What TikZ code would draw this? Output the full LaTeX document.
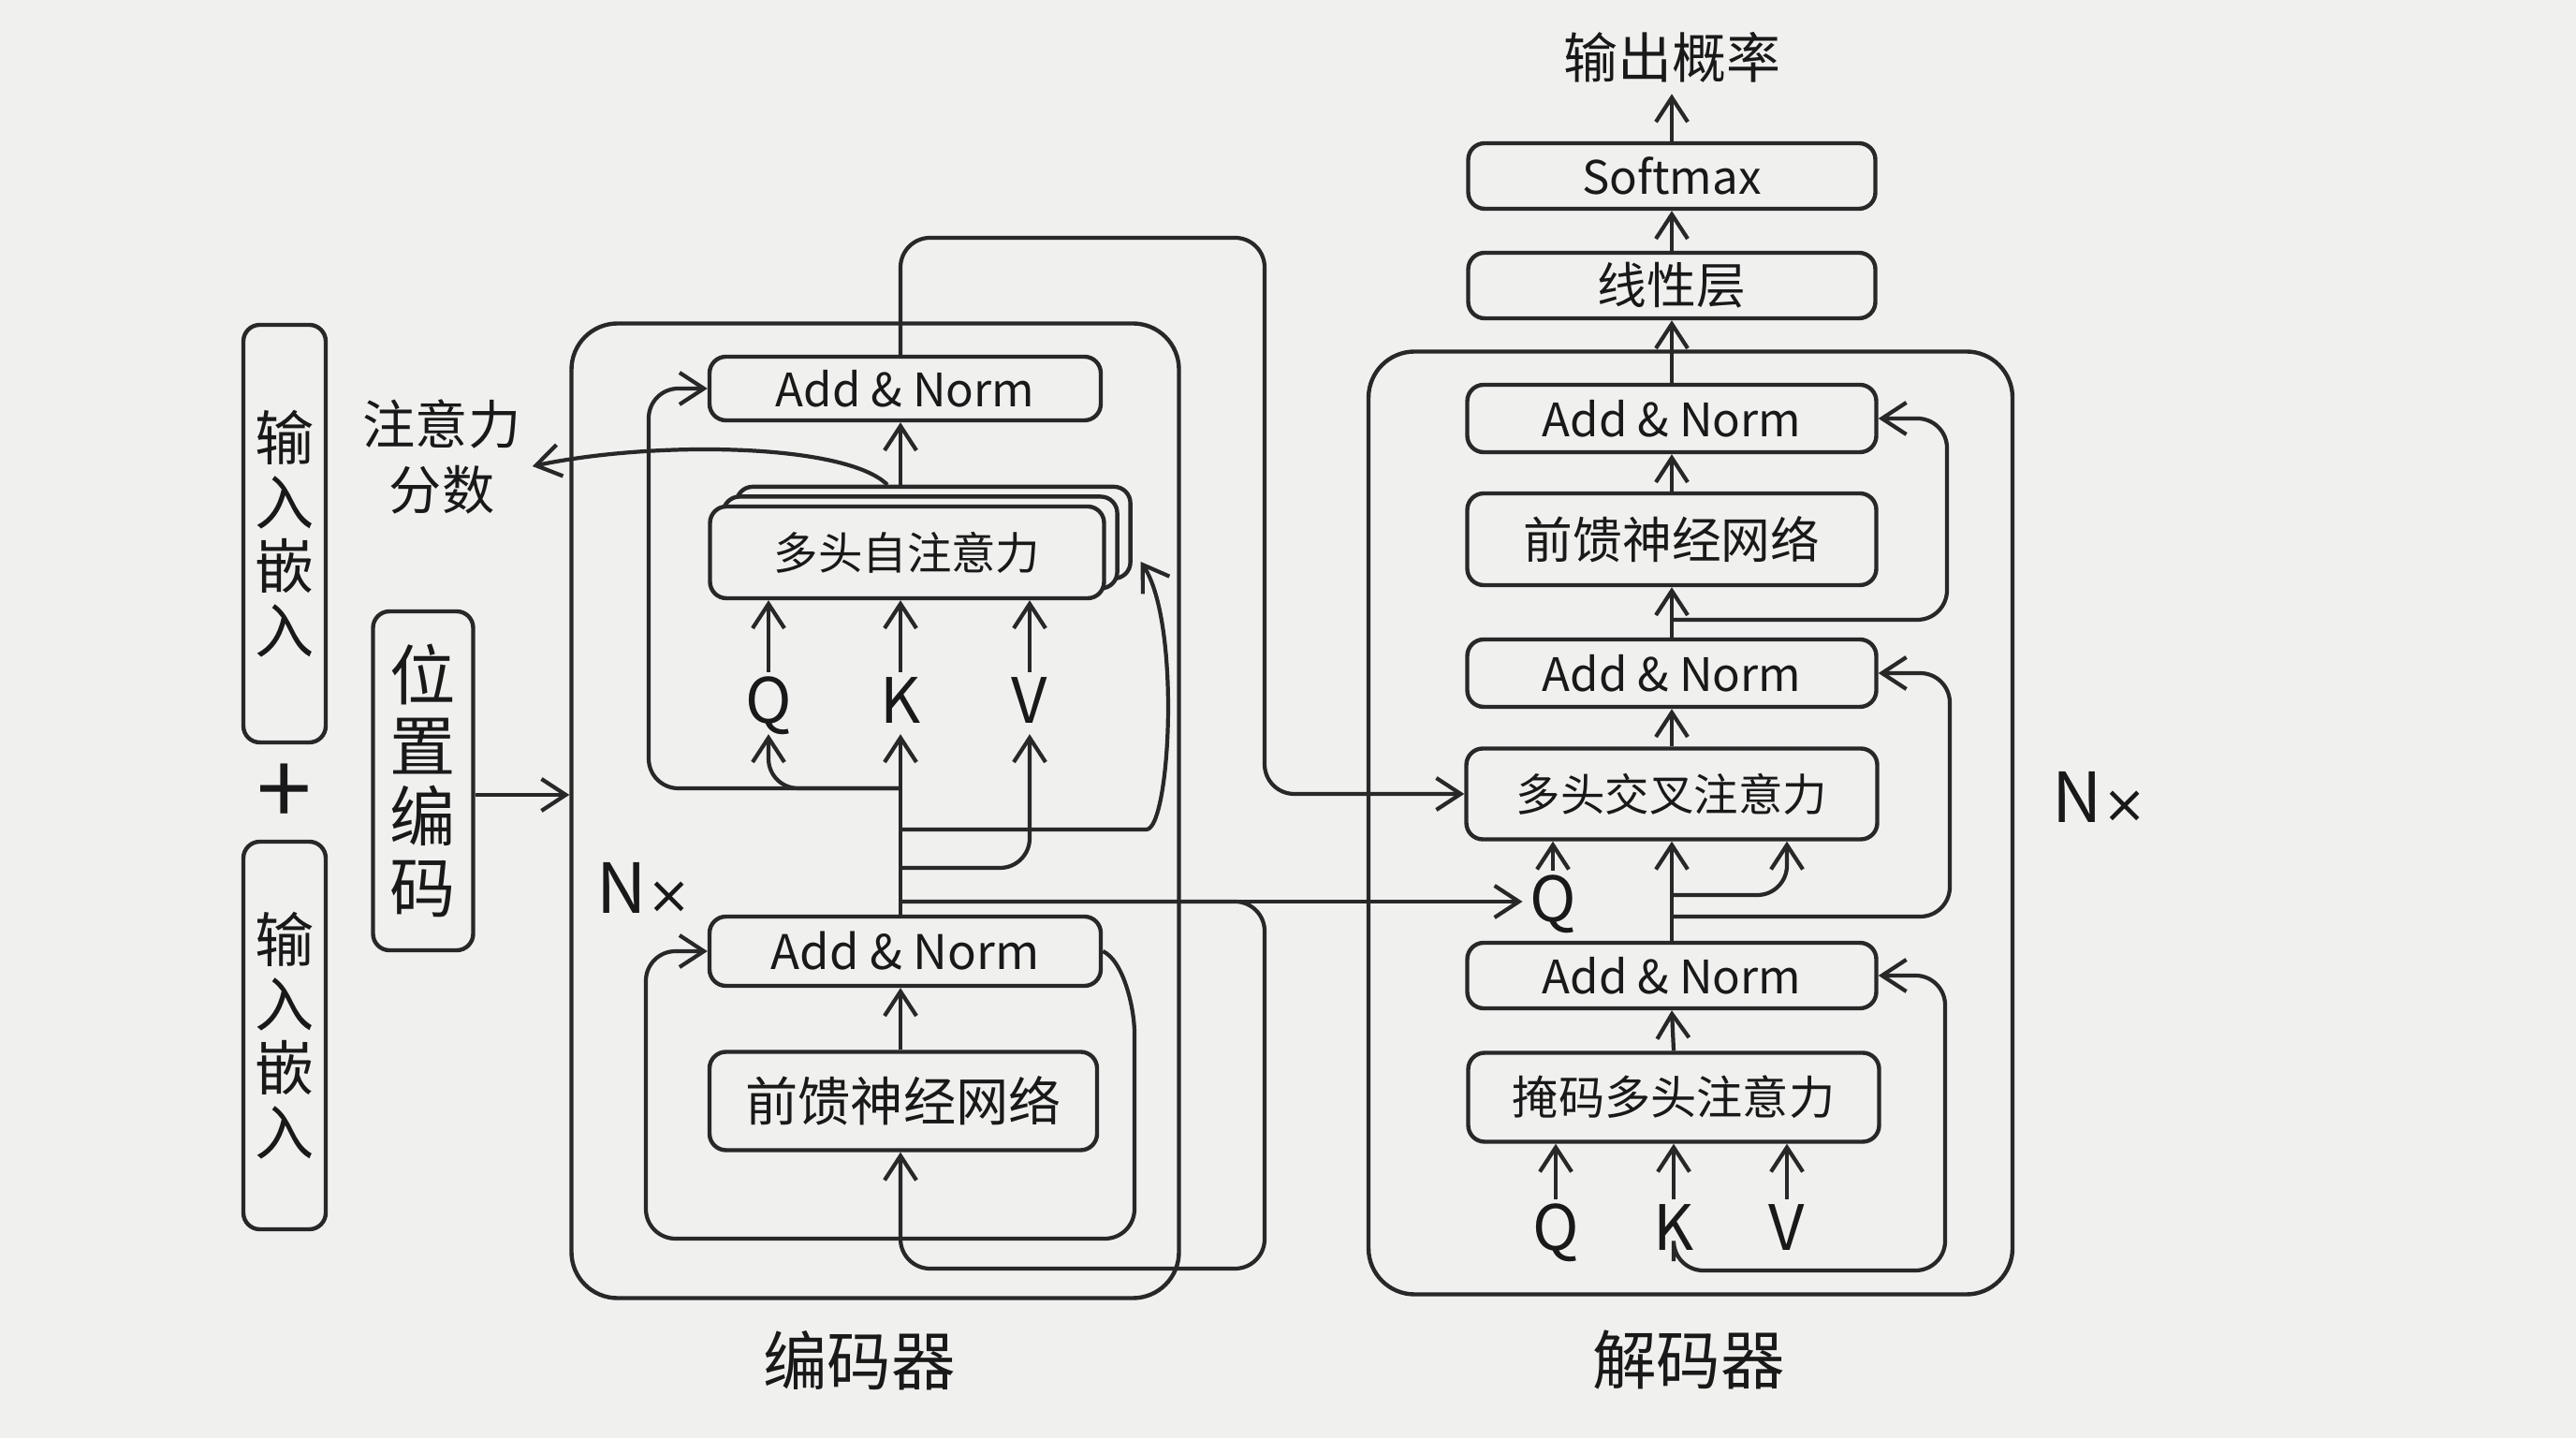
\documentclass[tikz,border=0pt]{standalone}
\usepackage{fontspec}
\setmainfont{Noto Sans CJK SC}
\newfontfamily\timesfont{DejaVu Sans}
\usetikzlibrary{arrows.meta,shadows}
\definecolor{ink}{RGB}{40,40,40}
\definecolor{paper}{RGB}{240,240,239}
\newcommand\setfs[2]{\fontsize{#1}{#2}\selectfont}

\begin{document}
\begin{tikzpicture}[
    text=black!90,
    box/.style={draw=ink, fill=paper, line width=1.25pt, rounded corners=5pt, inner sep=0pt, font=\setfs{14pt}{17pt}},
    frame/.style={draw=ink, line width=1.25pt, rounded corners=14pt, inner sep=0pt},
    vtext/.style={align=center, font=\setfs{18pt}{19.5pt}},
    qkv/.style={font=\setfs{19pt}{20pt}, text height=13.5pt, text depth=1pt, inner sep=2pt},
    title/.style={font=\setfs{19.5pt}{22pt}},
    arr/.style={draw=ink, line width=1.2pt, rounded corners=9pt, -{Straight Barb[length=2.6mm,width=3.4mm]}},
    stack/.style={copy shadow={shadow xshift=8pt, shadow yshift=6pt}, copy shadow={shadow xshift=4pt, shadow yshift=3pt}}
]
    \fill[paper] (0,0) rectangle (27.52,15.36);
    \useasboundingbox (0,0) rectangle (27.52,15.36);

    \node[box, vtext, minimum width=0.88cm, minimum height=4.46cm] (emba) at (3.04,9.66) {输\\入\\嵌\\入};
    \node[font=\setfs{30pt}{30pt}] (plus) at (3.04,6.87) {+};
    \node[box, vtext, minimum width=0.88cm, minimum height=4.14cm] (embb) at (3.04,4.30) {输\\入\\嵌\\入};
    \node[box, align=center, font=\setfs{20pt}{21.5pt}, minimum width=1.07cm, minimum height=3.62cm] (pe) at (4.52,7.02) {位\\置\\编\\码};
    \node[align=center, font=\setfs{16pt}{20pt}] (score) at (4.72,10.48) {注意力\\分数};

    \node[frame, minimum width=6.49cm, minimum height=10.41cm] (enc) at (9.35,6.70) {};
    \node[box, minimum width=4.18cm, minimum height=0.68cm] (ean1) at (9.67,11.21) {Add \& Norm};
    \node[box, stack, font=\setfs{13.5pt}{16pt}, minimum width=4.21cm, minimum height=0.98cm] (mha) at (9.69,9.46) {多头自注意力};
    \node[qkv] (eq) at (8.21,7.85) {Q};
    \node[qkv] (ek) at (9.62,7.85) {K};
    \node[qkv] (ev) at (11.00,7.85) {V};
    \node[box, minimum width=4.18cm, minimum height=0.74cm, font=\setfs{14.5pt}{17pt}] (ean2) at (9.67,5.20) {Add \& Norm};
    \node[box, font=\setfs{16pt}{18pt}, minimum width=4.14cm, minimum height=1.05cm] (effn) at (9.65,3.60) {前馈神经网络};
    \node[font=\setfs{21pt}{22pt}] (enx) at (6.88,5.88) {N{\timesfont\setfs{16pt}{18pt}×}};
    \node[title] (encl) at (9.18,0.83) {编码器};

    \node[frame, minimum width=6.88cm, minimum height=10.07cm] (dec) at (18.06,6.57) {};
    \node[font=\setfs{16.5pt}{20pt}] (outp) at (17.86,14.75) {输出概率};
    \node[box, minimum width=4.35cm, minimum height=0.70cm] (smax) at (17.86,13.48) {Softmax};
    \node[box, font=\setfs{15pt}{17pt}, minimum width=4.35cm, minimum height=0.70cm] (lin) at (17.86,12.31) {线性层};
    \node[box, minimum width=4.37cm, minimum height=0.72cm] (dan3) at (17.86,10.89) {Add \& Norm};
    \node[box, font=\setfs{15pt}{17pt}, minimum width=4.37cm, minimum height=0.98cm] (dffn) at (17.86,9.60) {前馈神经网络};
    \node[box, minimum width=4.37cm, minimum height=0.72cm] (dan2) at (17.86,8.17) {Add \& Norm};
    \node[box, font=\setfs{13.5pt}{16pt}, minimum width=4.39cm, minimum height=0.97cm] (dca) at (17.86,6.88) {多头交叉注意力};
    \node[qkv] (dq) at (16.59,5.73) {Q};
    \node[box, minimum width=4.37cm, minimum height=0.70cm] (dan1) at (17.86,4.94) {Add \& Norm};
    \node[box, font=\setfs{14pt}{16pt}, minimum width=4.39cm, minimum height=0.95cm] (mmha) at (17.88,3.64) {掩码多头注意力};
    \node[qkv] (dqq) at (16.62,2.22) {Q};
    \node[qkv] (dkk) at (17.88,2.22) {K};
    \node[qkv] (dvv) at (19.09,2.22) {V};
    \node[font=\setfs{21pt}{22pt}] (dnx) at (22.43,6.85) {N{\timesfont\setfs{16pt}{18pt}×}};
    \node[title] (decl) at (18.04,0.83) {解码器};

    \coordinate (ej1) at (9.62,6.94);
    \coordinate (ej2) at (9.62,6.50);
    \coordinate (ej3) at (9.62,6.09);
    \coordinate (dr0) at (17.86,5.80);
    \coordinate (dr1) at (17.86,5.57);
    \coordinate (dr2) at (17.86,8.74);
    \path (mha.north -| ek) ++(0,0.21) coordinate (mhatop);

    \draw[arr] (pe.east |- plus) -- (enc.west |- plus);
    \draw[arr] (ean2.north -| ek) -- (ek.south);
    \draw[arr] (ej1) -| (6.93,11.21) -- (ean1.west);
    \draw[arr] (ej1) -| (eq.south);
    \draw[arr] (ej3) -| (ev.south);
    \draw[arr] (ej2) -- (11.93,6.50) .. controls (12.50,6.50) and (12.62,8.70) .. ([xshift=0.37cm,yshift=-0.1cm]mha.east);
    \draw[arr] (eq.north) -- (eq.north |- mha.south);
    \draw[arr] (ek.north) -- (ek.north |- mha.south);
    \draw[arr] (ev.north) -- (ev.north |- mha.south);
    \draw[arr] (mhatop) -- (ean1.south -| ek);
    \draw[arr] ([xshift=-0.14cm]mhatop) .. controls (9.04,10.62) and (7.02,10.66) .. ([yshift=-0.1cm]score.east);
    \draw[arr] (ean1.north -| ek) |- (13.51,12.82) |- (dca.west);
    \draw[arr] (ek |- dq) -- (dq.west);
    \draw[arr] (ek |- dq) -| (13.51,1.81) -| (effn.south -| ek);
    \draw[arr] (effn.north -| ek) -- (ean2.south -| ek);
    \draw[arr] (ean2.east) .. controls (12.00,5.10) and (12.12,4.60) .. (12.12,4.00) -- (12.12,2.13) -- (6.90,2.13) -- (6.90,5.20) -- (ean2.west);

    \draw[arr] (smax.north) -- (outp.south);
    \draw[arr] (lin.north) -- (smax.south);
    \draw[arr] (dan3.north) -- (lin.south);
    \draw[arr] (dffn.north) -- (dan3.south);
    \draw[arr] (dan2.north) -- (dffn.south);
    \draw[arr] (dr2) -| (20.80,10.89) -- (dan3.east);
    \draw[arr] (dca.north) -- (dan2.south);
    \draw[arr] (dr1) -| (20.83,8.17) -- (dan2.east);
    \draw[arr] (dq.north) -- (dq.north |- dca.south);
    \draw[arr] (dan1.north) -- (dca.south);
    \draw[arr] (dr0) -| ([xshift=1.23cm]dca.south);
    \draw[arr] (mmha.north) -- (dan1.south);
    \draw[arr] (dqq.north) -- (dqq.north |- mmha.south);
    \draw[arr] (dkk.north) -- (dkk.north |- mmha.south);
    \draw[arr] (dvv.north) -- (dvv.north |- mmha.south);
    \draw[arr] (dkk.south) |- (20.78,1.79) |- (dan1.east);
\end{tikzpicture}
\end{document}
